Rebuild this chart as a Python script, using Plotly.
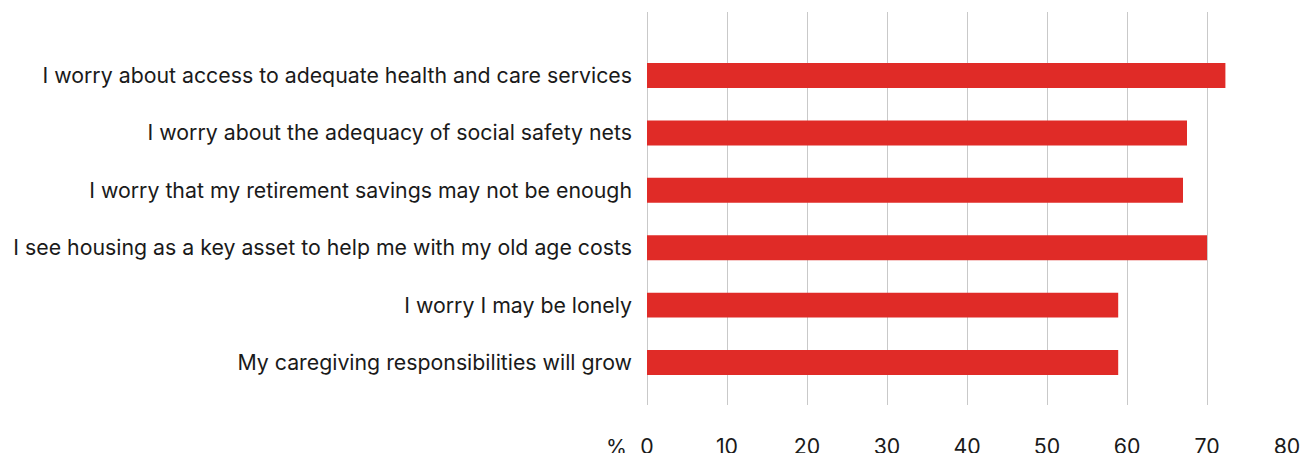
import plotly.graph_objects as go

categories = [
    "I worry about access to adequate health and care services",
    "I worry about the adequacy of social safety nets",
    "I worry that my retirement savings may not be enough",
    "I see housing as a key asset to help me with my old age costs",
    "I worry I may be lonely",
    "My caregiving responsibilities will grow",
]
values = [72.3, 67.5, 67.0, 70.0, 58.9, 58.9]
x_ticks = [0, 10, 20, 30, 40, 50, 60, 70, 80]

# bottom-to-top order for plotly's category axis
cats_bt = categories[::-1]
vals_bt = values[::-1]

FONT = "Inter, Roboto, sans-serif"
TEXT = "#1a1a1a"
GRID = "#c9c9c9"
RED = "#e02b27"
FS = 21.3

fig = go.Figure(
    go.Bar(
        x=vals_bt,
        y=cats_bt,
        orientation="h",
        marker=dict(color=RED, line=dict(width=0)),
        width=0.435,
        hoverinfo="skip",
    )
)

fig.update_layout(
    width=1302,
    height=453,
    margin=dict(l=647, r=15, t=12, b=48),
    paper_bgcolor="white",
    plot_bgcolor="white",
    showlegend=False,
    font=dict(family=FONT, size=FS, color=TEXT),
    xaxis=dict(
        range=[0, 80],
        tickvals=x_ticks,
        ticktext=[str(v) for v in x_ticks],
        showgrid=True,
        gridcolor=GRID,
        gridwidth=1,
        zeroline=True,
        zerolinecolor=GRID,
        zerolinewidth=1,
        showline=False,
        ticks="",
        ticklabelstandoff=27,
        tickfont=dict(family=FONT, size=FS, color=TEXT),
        automargin=False,
        fixedrange=True,
    ),
    yaxis=dict(
        type="category",
        categoryorder="array",
        categoryarray=cats_bt,
        range=[-0.74, 6.106],
        showgrid=False,
        zeroline=False,
        showline=False,
        ticks="",
        ticklabelstandoff=14,
        tickfont=dict(family=FONT, size=FS, color=TEXT),
        automargin=False,
        fixedrange=True,
    ),
    annotations=[
        dict(
            text="%",
            xref="paper",
            yref="paper",
            x=0,
            y=0,
            xanchor="right",
            yanchor="top",
            xshift=-18,
            yshift=-27,
            showarrow=False,
            font=dict(family=FONT, size=FS, color=TEXT),
        )
    ],
)

fig.write_html("out.html")
